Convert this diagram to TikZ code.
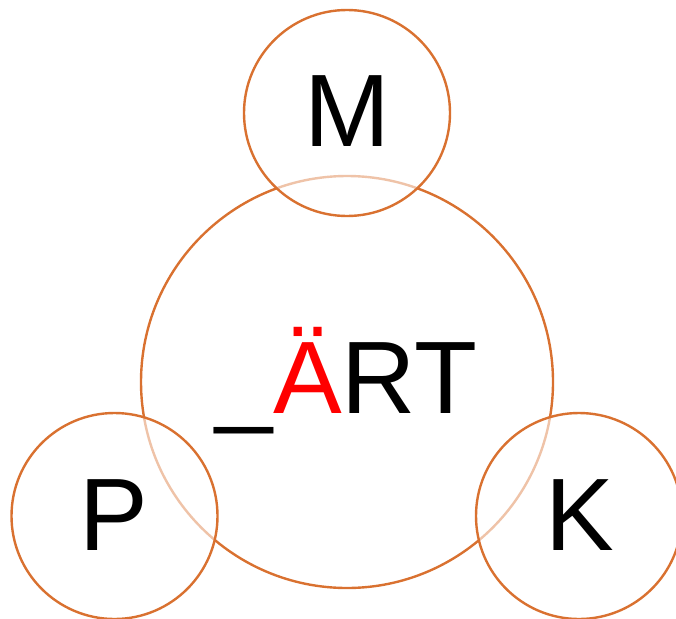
\documentclass[tikz,border=0pt]{standalone}
\usepackage{fontspec}
\setmainfont{Liberation Sans}
\definecolor{ring}{RGB}{217,113,48}
\definecolor{umlred}{RGB}{255,0,0}
\begin{document}
\begin{tikzpicture}[x=1pt,y=1pt,
  ringline/.style={draw=ring,line width=2.4pt,circle,inner sep=0pt},
  smallring/.style={ringline,minimum size=206pt,fill=white,fill opacity=0.58,draw opacity=1},
  bigtext/.style={font=\fontsize{103}{110}\selectfont,anchor=base,inner sep=0pt}]
\useasboundingbox (0,0) rectangle (676,-618);
\node[ringline,minimum size=412pt] (big) at (347,-382) {};
\node[smallring] (m) at (347,-113) {};
\node[smallring] (p) at (114.5,-516) {};
\node[smallring] (k) at (579,-516) {};
\node[bigtext] (tm) at (347,-146) {M};
\node[bigtext] (tp) at (114,-550) {P};
\node[bigtext] (tk) at (580,-550) {K};
\node[bigtext] (tc) at (346.5,-413) {\_\textcolor{umlred}{Ä}RT};
\end{tikzpicture}
\end{document}
